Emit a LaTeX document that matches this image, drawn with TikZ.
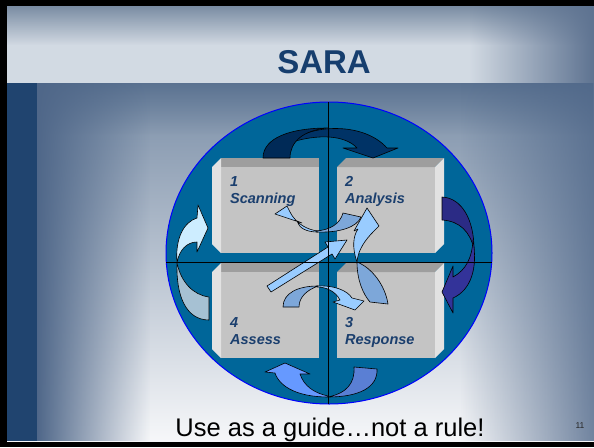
\documentclass[tikz,border=0pt]{standalone}
\usepackage{fontspec}
\setmainfont{Liberation Sans}
\usetikzlibrary{fadings}

\definecolor{bandtop}{HTML}{7A8CA3}
\definecolor{bandmid}{HTML}{D2DAE3}
\definecolor{bandedge}{HTML}{5E7391}
\definecolor{maintop}{HTML}{7A8EA7}
\definecolor{mainmid}{HTML}{D3DBE4}
\definecolor{mainbot}{HTML}{F6F7F9}
\definecolor{mainedge}{HTML}{4F6789}
\definecolor{maindark}{HTML}{3D587C}
\definecolor{strip}{HTML}{20446F}
\definecolor{disc}{RGB}{0,102,153}
\definecolor{boxface}{HTML}{C4C4C4}
\definecolor{boxtop}{HTML}{9E9E9E}
\definecolor{boxside}{HTML}{E2E2E2}
\definecolor{titleblue}{HTML}{163E6E}
\definecolor{labelblue}{HTML}{1B3F6E}
\definecolor{navyback}{HTML}{002A57}
\definecolor{navyfront}{HTML}{003366}
\definecolor{indigoback}{HTML}{2B2B85}
\definecolor{indigofront}{HTML}{333399}
\definecolor{royalback}{HTML}{5A7FD4}
\definecolor{royalfront}{HTML}{6699FF}
\definecolor{paleback}{HTML}{A6C1D3}
\definecolor{palefront}{HTML}{CDEDFF}
\definecolor{skyback}{HTML}{7DA7D9}
\definecolor{skyfront}{HTML}{99CCFF}

\begin{document}
\begin{tikzpicture}[x=1pt,y=-1pt,
    blk/.style={draw=black,line width=0.6pt,line join=round},
    lbl/.style={anchor=north west,inner sep=0pt,align=left,text=labelblue,
      font=\fontsize{14.5}{17}\selectfont\bfseries\itshape}]
  \useasboundingbox (0,0) rectangle (594,447);
  \fill[black] (0,0) rectangle (594,447);
  \fill[bandmid] (7,6) rectangle (594,83);
  \fill[bandtop,path fading=south] (7,6) rectangle (594,45);
  \fill[bandedge,path fading=west] (470,6) rectangle (594,83);
  \shade[top color=maintop,middle color=mainmid,bottom color=mainbot] (7,83) rectangle (594,441);
  \fill[maindark,path fading=south,fill opacity=0.5] (7,83) rectangle (594,135);
  \fill[mainedge,path fading=east] (37,83) rectangle (150,441);
  \fill[mainedge,path fading=west,fill opacity=0.8] (460,83) rectangle (594,441);
  \fill[strip] (7,83) rectangle (37,441);

  \node[inner sep=0pt,text=titleblue,font=\fontsize{33}{33}\selectfont\bfseries] (title) at (324,62) {SARA};

  \draw[fill=disc,draw=blue,line width=1pt] (329,253) ellipse [x radius=163pt,y radius=151pt];
  \coordinate (n) at (328,102);
  \coordinate (s) at (328,404);
  \coordinate (w) at (166,262);
  \coordinate (e) at (492,262);

  \foreach \bx/\by in {212/158,212/263}{
    \fill[boxface] (\bx+9,\by+9) rectangle (\bx+107,\by+95);
    \fill[boxtop] (\bx+9,\by) -- (\bx+107,\by) -- (\bx+107,\by+9) -- (\bx+9,\by+9) -- cycle;
    \fill[boxside] (\bx,\by+9) -- (\bx+9,\by) -- (\bx+9,\by+95) -- (\bx,\by+86) -- cycle;
  }
  \foreach \bx/\by in {337/158,337/263}{
    \fill[boxface] (\bx,\by+9) rectangle (\bx+98,\by+95);
    \fill[boxtop] (\bx,\by+9) -- (\bx+9,\by) -- (\bx+107,\by) -- (\bx+98,\by+9) -- cycle;
    \fill[boxside] (\bx+98,\by+9) -- (\bx+107,\by) -- (\bx+107,\by+86) -- (\bx+98,\by+95) -- cycle;
  }

  \node[lbl] (scan) at (230,176) {1\\Scanning};
  \node[lbl] (analysis) at (345,176) {2\\Analysis};
  \node[lbl] (assess) at (230,317) {4\\Assess};
  \node[lbl] (response) at (345,317) {3\\Response};

  \draw[blk,fill=navyfront] (292,142) .. controls (306,126) and (362,120) .. (387,148) -- (398,148) -- (373,158) -- (343,148) -- (357,148) .. controls (348,138) and (326,132) .. (292,142) -- cycle;
  \draw[blk,fill=navyback] (263,158) .. controls (263,138) and (290,128) .. (328,128) .. controls (303,130) and (290,142) .. (290,158) -- cycle;

  \draw[blk,fill=indigoback] (442,197) .. controls (462,198) and (474,220) .. (474,249) .. controls (470,232) and (460,221) .. (442,220) -- cycle;
  \draw[blk,fill=indigofront] (473,240) .. controls (478,268) and (471,290) .. (453,298) -- (453,313) -- (442,292) -- (453,266) -- (453,277) .. controls (466,270) and (472,258) .. (473,240) -- cycle;

  \draw[blk,fill=royalback] (354,367) -- (377,369) .. controls (378,388) and (358,397) .. (328,397) .. controls (347,393) and (355,383) .. (354,367) -- cycle;
  \draw[blk,fill=royalfront] (328,397) .. controls (300,397) and (280,388) .. (275,373) -- (265,372) -- (285,363) -- (310,374) -- (300,374) .. controls (304,386) and (314,393) .. (328,396) -- cycle;

  \draw[blk,fill=paleback] (209,297) -- (209,320) .. controls (186,320) and (176,296) .. (177,263) .. controls (181,282) and (193,295) .. (209,297) -- cycle;
  \draw[blk,fill=palefront] (177,263) .. controls (175,238) and (184,222) .. (197,218) -- (198,205) -- (208,228) -- (197,252) -- (197,242) .. controls (187,242) and (179,250) .. (177,263) -- cycle;

  \draw[blk,fill=skyfront] (318,232) .. controls (306,232) and (299,228) .. (297,221) -- (302,223) -- (275,214) -- (287,206) -- (290,212) .. controls (296,224) and (308,230) .. (318,231) -- cycle;
  \draw[blk,fill=skyback] (316,232) .. controls (340,233) and (357,227) .. (361,217) -- (343,213) .. controls (340,224) and (330,230) .. (316,231) -- cycle;

  \draw[blk,fill=skyfront] (357,262) .. controls (352,248) and (353,236) .. (358,229) -- (354,231) -- (367,208) -- (379,226) -- (374,231) .. controls (365,240) and (358,250) .. (357,262) -- cycle;
  \draw[blk,fill=skyback] (357,262) .. controls (357,280) and (363,294) .. (370,302) -- (388,304) .. controls (385,285) and (372,268) .. (357,262) -- cycle;

  \draw[blk,fill=skyfront] (267,286) -- (328,247) -- (325,242) -- (347,240) -- (335,259) -- (332,254) -- (271,292) -- cycle;

  \draw[blk,fill=skyback] (283,307) .. controls (283,293) and (298,286) .. (318,286) .. controls (307,290) and (299,297) .. (299,307) -- cycle;
  \draw[blk,fill=skyfront] (317,286) .. controls (333,285) and (347,290) .. (352,298) -- (364,301) -- (355,310) -- (333,302) -- (340,300) .. controls (336,292) and (327,287) .. (317,287) -- cycle;

  \draw[line width=0.8pt] (n) -- (s);
  \draw[line width=0.8pt] (w) -- (e);

  \node[anchor=base,inner sep=0pt,font=\fontsize{25.5}{25.5}\selectfont] (motto) at (330,436) {Use as a guide…not a rule!};
  \node[inner sep=0pt,text=black!85,font=\fontsize{8.5}{9}\selectfont] (pageno) at (580,426) {11};
\end{tikzpicture}
\end{document}
